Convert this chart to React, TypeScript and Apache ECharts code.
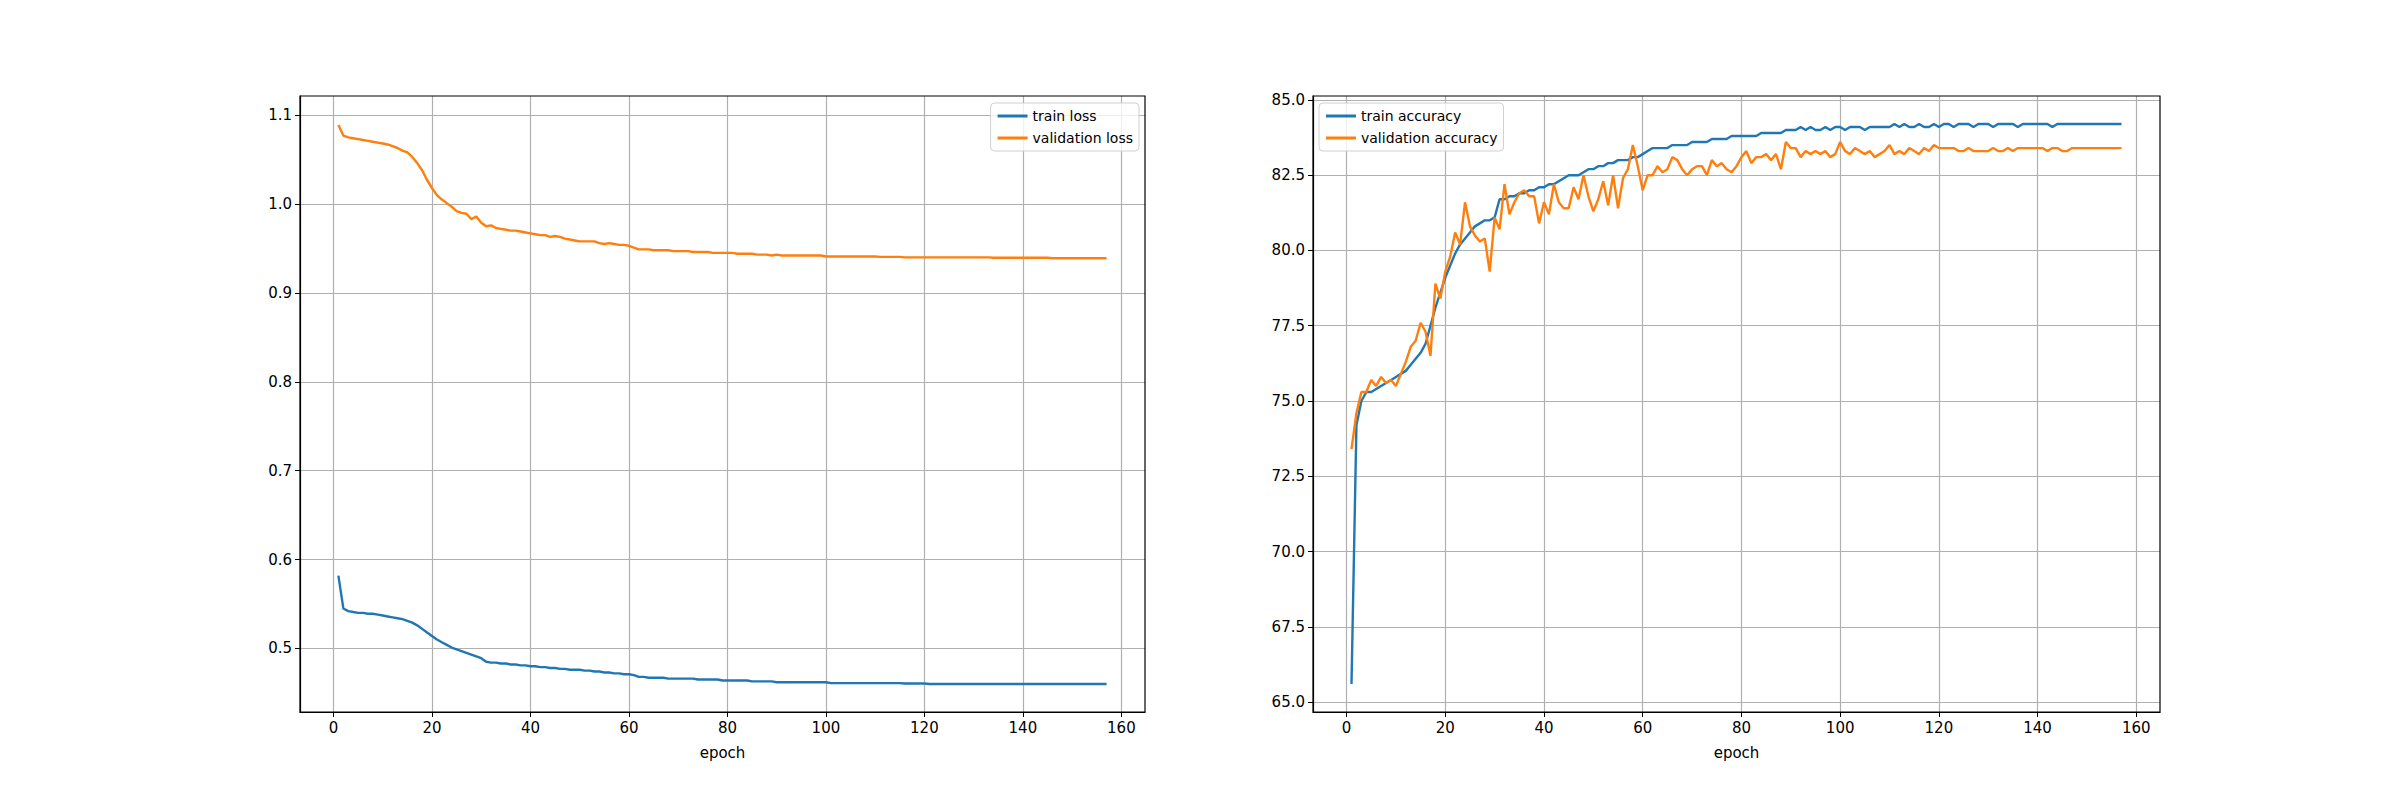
import React, { useEffect, useRef } from 'react';
import * as echarts from 'echarts';

const trainLoss = [
  0.582, 0.545, 0.542, 0.541, 0.540, 0.540, 0.539, 0.539, 0.538, 0.537,
  0.536, 0.535, 0.534, 0.533, 0.531, 0.529, 0.526, 0.522, 0.518, 0.514,
  0.510, 0.507, 0.504, 0.501, 0.499, 0.497, 0.495, 0.493, 0.491, 0.489,
  0.485, 0.484, 0.484, 0.483, 0.483, 0.482, 0.482, 0.481, 0.481, 0.480,
  0.480, 0.479, 0.479, 0.478, 0.478, 0.477, 0.477, 0.476, 0.476, 0.476,
  0.475, 0.475, 0.474, 0.474, 0.473, 0.473, 0.472, 0.472, 0.471, 0.471,
  0.470, 0.468, 0.468, 0.467, 0.467, 0.467, 0.467, 0.466, 0.466, 0.466,
  0.466, 0.466, 0.466, 0.465, 0.465, 0.465, 0.465, 0.465, 0.464, 0.464,
  0.464, 0.464, 0.464, 0.464, 0.463, 0.463, 0.463, 0.463, 0.463, 0.462,
  0.462, 0.462, 0.462, 0.462, 0.462, 0.462, 0.462, 0.462, 0.462, 0.462,
  0.461, 0.461, 0.461, 0.461, 0.461, 0.461, 0.461, 0.461, 0.461, 0.461,
  0.461, 0.461, 0.461, 0.461, 0.461, 0.4605, 0.4605, 0.4605, 0.4605, 0.4605,
  0.460, 0.460, 0.460, 0.460, 0.460, 0.460, 0.460, 0.460, 0.460, 0.460,
  0.460, 0.460, 0.460, 0.460, 0.460, 0.460, 0.460, 0.460, 0.460, 0.460,
  0.460, 0.460, 0.460, 0.460, 0.460, 0.460, 0.460, 0.460, 0.460, 0.460,
  0.460, 0.460, 0.460, 0.460, 0.460, 0.460, 0.460,
];

const valLoss = [
  1.089, 1.077, 1.075, 1.074, 1.073, 1.072, 1.071, 1.070, 1.069, 1.068,
  1.067, 1.065, 1.063, 1.060, 1.058, 1.053, 1.046, 1.038, 1.027, 1.018,
  1.010, 1.005, 1.001, 0.997, 0.992, 0.990, 0.989, 0.983, 0.986, 0.979,
  0.975, 0.976, 0.973, 0.972, 0.971, 0.970, 0.970, 0.969, 0.968, 0.967,
  0.966, 0.965, 0.965, 0.963, 0.964, 0.963, 0.961, 0.960, 0.959, 0.958,
  0.958, 0.958, 0.958, 0.956, 0.955, 0.956, 0.955, 0.954, 0.954, 0.953,
  0.951, 0.949, 0.949, 0.949, 0.948, 0.948, 0.948, 0.948, 0.947, 0.947,
  0.947, 0.947, 0.946, 0.946, 0.946, 0.946, 0.945, 0.945, 0.945, 0.945,
  0.945, 0.944, 0.944, 0.944, 0.944, 0.943, 0.943, 0.943, 0.942, 0.943,
  0.942, 0.942, 0.942, 0.942, 0.942, 0.942, 0.942, 0.942, 0.942, 0.941,
  0.941, 0.941, 0.941, 0.941, 0.941, 0.941, 0.941, 0.941, 0.941, 0.941,
  0.9405, 0.9405, 0.9405, 0.9405, 0.9405, 0.940, 0.940, 0.940, 0.940, 0.940,
  0.940, 0.940, 0.940, 0.940, 0.940, 0.940, 0.940, 0.940, 0.940, 0.940,
  0.940, 0.940, 0.940, 0.9395, 0.9395, 0.9395, 0.9395, 0.9395, 0.9395, 0.9395,
  0.9395, 0.9395, 0.9395, 0.9395, 0.9395, 0.939, 0.939, 0.939, 0.939, 0.939,
  0.939, 0.939, 0.939, 0.939, 0.939, 0.939, 0.939,
];

const trainAcc = [
  65.6, 74.2, 75.0, 75.3, 75.3, 75.4, 75.5, 75.6, 75.7, 75.8,
  75.9, 76.0, 76.2, 76.4, 76.6, 76.9, 77.5, 78.1, 78.6, 79.1,
  79.5, 79.9, 80.2, 80.4, 80.6, 80.8, 80.9, 81.0, 81.0, 81.1,
  81.7, 81.7, 81.8, 81.8, 81.9, 81.9, 82.0, 82.0, 82.1, 82.1,
  82.2, 82.2, 82.3, 82.4, 82.5, 82.5, 82.5, 82.6, 82.7, 82.7,
  82.8, 82.8, 82.9, 82.9, 83.0, 83.0, 83.0, 83.1, 83.1, 83.2,
  83.3, 83.4, 83.4, 83.4, 83.4, 83.5, 83.5, 83.5, 83.5, 83.6,
  83.6, 83.6, 83.6, 83.7, 83.7, 83.7, 83.7, 83.8, 83.8, 83.8,
  83.8, 83.8, 83.8, 83.9, 83.9, 83.9, 83.9, 83.9, 84.0, 84.0,
  84.0, 84.1, 84.0, 84.1, 84.0, 84.0, 84.1, 84.0, 84.1, 84.1,
  84.0, 84.1, 84.1, 84.1, 84.0, 84.1, 84.1, 84.1, 84.1, 84.1,
  84.2, 84.1, 84.2, 84.1, 84.1, 84.2, 84.1, 84.1, 84.2, 84.1,
  84.2, 84.2, 84.1, 84.2, 84.2, 84.2, 84.1, 84.2, 84.2, 84.2,
  84.1, 84.2, 84.2, 84.2, 84.2, 84.1, 84.2, 84.2, 84.2, 84.2,
  84.2, 84.2, 84.1, 84.2, 84.2, 84.2, 84.2, 84.2, 84.2, 84.2,
  84.2, 84.2, 84.2, 84.2, 84.2, 84.2, 84.2,
];

const valAcc = [
  73.4, 74.6, 75.3, 75.3, 75.7, 75.5, 75.8, 75.6, 75.7, 75.5,
  75.9, 76.3, 76.8, 77.0, 77.6, 77.3, 76.5, 78.9, 78.4, 79.3,
  79.8, 80.6, 80.2, 81.6, 80.8, 80.5, 80.3, 80.4, 79.3, 81.1,
  80.7, 82.2, 81.2, 81.6, 81.9, 82.0, 81.8, 81.8, 80.9, 81.6,
  81.2, 82.2, 81.6, 81.4, 81.4, 82.1, 81.7, 82.5, 81.8, 81.3,
  81.7, 82.3, 81.5, 82.5, 81.4, 82.4, 82.7, 83.5, 82.8, 82.0,
  82.5, 82.5, 82.8, 82.6, 82.7, 83.1, 83.0, 82.7, 82.5, 82.7,
  82.8, 82.8, 82.5, 83.0, 82.8, 82.9, 82.7, 82.6, 82.8, 83.1,
  83.3, 82.9, 83.1, 83.1, 83.2, 83.0, 83.2, 82.7, 83.6, 83.4,
  83.4, 83.1, 83.3, 83.2, 83.3, 83.2, 83.3, 83.1, 83.2, 83.6,
  83.3, 83.2, 83.4, 83.3, 83.2, 83.3, 83.1, 83.2, 83.3, 83.5,
  83.2, 83.3, 83.2, 83.4, 83.3, 83.2, 83.4, 83.3, 83.5, 83.4,
  83.4, 83.4, 83.4, 83.3, 83.3, 83.4, 83.3, 83.3, 83.3, 83.3,
  83.4, 83.3, 83.3, 83.4, 83.3, 83.4, 83.4, 83.4, 83.4, 83.4,
  83.4, 83.3, 83.4, 83.4, 83.3, 83.3, 83.4, 83.4, 83.4, 83.4,
  83.4, 83.4, 83.4, 83.4, 83.4, 83.4, 83.4,
];

const epochTicks = [0, 20, 40, 60, 80, 100, 120, 140, 160];
const lossTicks = [0.5, 0.6, 0.7, 0.8, 0.9, 1.0, 1.1];
const accTicks = [65.0, 67.5, 70.0, 72.5, 75.0, 77.5, 80.0, 82.5, 85.0];

const BLUE = '#1f77b4';
const ORANGE = '#ff7f0e';
const FONT = 'DejaVu Sans';

const grids = [
  { left: 300, top: 96, width: 845, height: 616 },
  { left: 1313, top: 96, width: 847, height: 616 },
];

const toPairs = (vals: number[]) => vals.map((v, i) => [i + 1, v]);

const xAxisFor = (gridIndex: number) => ({
  type: 'value' as const,
  gridIndex,
  min: -6.8,
  max: 164.8,
  name: 'epoch',
  nameLocation: 'middle' as const,
  nameGap: 33,
  nameTextStyle: { color: '#000', fontSize: 15, fontFamily: FONT },
  axisLine: { show: true, onZero: false, lineStyle: { color: '#000', width: 1.2 } },
  axisTick: { show: true, length: 5, customValues: epochTicks, lineStyle: { color: '#000' } },
  axisLabel: { customValues: epochTicks, color: '#000', fontSize: 15, fontFamily: FONT, margin: 8 },
  splitLine: { show: true, lineStyle: { color: '#b0b0b0', width: 1.2 } },
});

const yAxisFor = (gridIndex: number, min: number, max: number, ticks: number[]) => ({
  type: 'value' as const,
  gridIndex,
  min,
  max,
  axisLine: { show: true, onZero: false, lineStyle: { color: '#000', width: 1.2 } },
  axisTick: { show: true, length: 5, customValues: ticks, lineStyle: { color: '#000' } },
  axisLabel: {
    customValues: ticks,
    color: '#000',
    fontSize: 15,
    fontFamily: FONT,
    margin: 8,
    formatter: (v: number) => v.toFixed(1),
  },
  splitLine: { show: true, lineStyle: { color: '#b0b0b0', width: 1.2 } },
});

const lineSeries = (name: string, vals: number[], color: string, idx: number) => ({
  name,
  type: 'line' as const,
  xAxisIndex: idx,
  yAxisIndex: idx,
  data: toPairs(vals),
  showSymbol: false,
  symbol: 'none',
  lineStyle: { color, width: 2.4 },
  itemStyle: { color },
});

const legendFor = (data: string[], pos: Record<string, number>) => ({
  data,
  orient: 'vertical' as const,
  ...pos,
  itemWidth: 30,
  itemHeight: 3,
  itemGap: 8,
  padding: [6, 6, 6, 7],
  borderColor: '#d0d0d0',
  borderWidth: 1,
  borderRadius: 4,
  backgroundColor: 'rgba(255,255,255,0.8)',
  textStyle: { color: '#000', fontSize: 14, fontFamily: FONT },
  icon: 'rect',
});

export default function App() {
  const ref = useRef<HTMLDivElement>(null);

  useEffect(() => {
    if (!ref.current) return;
    const chart = echarts.init(ref.current, undefined, { renderer: 'svg' });
    chart.setOption({
      animation: false,
      backgroundColor: '#fff',
      grid: grids,
      xAxis: [xAxisFor(0), xAxisFor(1)],
      yAxis: [yAxisFor(0, 0.4285, 1.1215, lossTicks), yAxisFor(1, 64.67, 85.13, accTicks)],
      legend: [
        legendFor(['train loss', 'validation loss'], { right: 2400 - 1139, top: 103 }),
        legendFor(['train accuracy', 'validation accuracy'], { left: 1319, top: 103 }),
      ],
      series: [
        lineSeries('train loss', trainLoss, BLUE, 0),
        lineSeries('validation loss', valLoss, ORANGE, 0),
        lineSeries('train accuracy', trainAcc, BLUE, 1),
        lineSeries('validation accuracy', valAcc, ORANGE, 1),
      ],
      graphic: grids.map((g) => ({
        type: 'rect',
        shape: { x: g.left, y: g.top, width: g.width, height: g.height },
        style: { fill: 'none', stroke: '#000', lineWidth: 1.2 },
        silent: true,
        z: 100,
      })),
    });
    return () => chart.dispose();
  }, []);

  return (
    <div
      ref={ref}
      style={{ position: 'fixed', left: 0, top: 0, width: 2400, height: 800 }}
    />
  );
}
